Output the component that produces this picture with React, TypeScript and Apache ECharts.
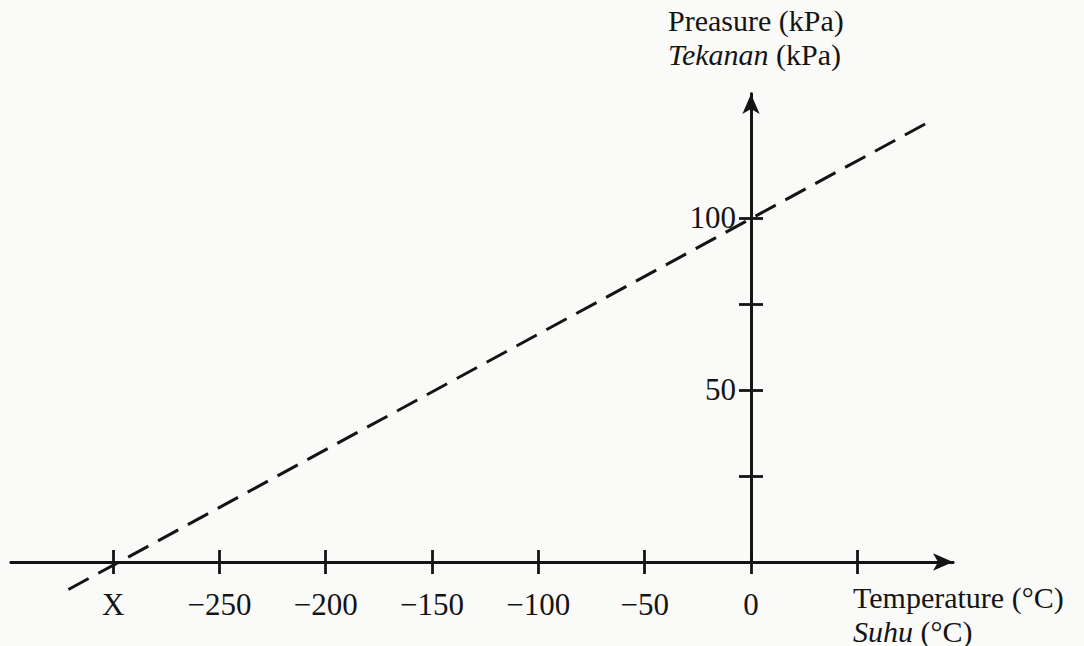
import React, { useEffect, useRef } from "react";
import * as echarts from "echarts";

// Axis tick values
const tempTicks: number[] = [-300, -250, -200, -150, -100, -50, 0, 50];
const tempLabels: number[] = [-300, -250, -200, -150, -100, -50, 0];
const pressureTicks: number[] = [25, 50, 75, 100];
const pressureLabels: number[] = [50, 100];
// Dashed extrapolated line
const lineTemps: number[] = [-321, 84];
const linePressures: number[] = [-8, 128];

const INK = "#141414";
const FONT = "Liberation Serif";
const FS = 31;
const NFS = 30;
const LH = 34;

export default function App() {
  const ref = useRef<HTMLDivElement>(null);
  useEffect(() => {
    if (!ref.current) return;
    const chart = echarts.init(ref.current, null, { renderer: "svg" });
    const axisLine = {
      show: true,
      onZero: false,
      lineStyle: { color: INK, width: 2.8 },
    };
    const tickStyle = { color: INK, width: 2.8 };
    const xBase = {
      type: "value" as const,
      min: -348,
      max: 95,
      position: "bottom" as const,
      splitLine: { show: false },
    };
    // y axis sits at temperature 0: px 751, grid left 11
    const yBase = {
      type: "value" as const,
      min: 0,
      max: 136,
      position: "left" as const,
      offset: -740,
      splitLine: { show: false },
    };
    const rich = {
      n: { fontFamily: FONT, fontSize: NFS, lineHeight: LH, fill: INK, color: INK },
      i: { fontFamily: FONT, fontSize: NFS, lineHeight: LH, fontStyle: "italic", fill: INK, color: INK },
    };
    chart.setOption({
      animation: false,
      backgroundColor: "#fafaf8",
      grid: { left: 11, right: 131, top: 94, bottom: 84, containLabel: false, outerBoundsMode: "none" },
      xAxis: [
        {
          ...xBase,
          axisLine: { ...axisLine, symbol: ["none", "arrow"], symbolSize: [13, 20] },
          axisTick: { show: true, inside: false, length: 12, customValues: tempTicks, lineStyle: tickStyle },
          axisLabel: {
            show: true,
            customValues: tempLabels,
            margin: 27,
            fontFamily: FONT,
            fontSize: FS,
            color: INK,
            formatter: (v: number) => (v === -300 ? "X" : v < 0 ? "\u2212" + Math.abs(v) : String(v)),
          },
        },
        {
          ...xBase,
          axisLine: { ...axisLine },
          axisTick: { show: true, inside: true, length: 12, customValues: tempTicks, lineStyle: tickStyle },
          axisLabel: { show: false },
        },
      ],
      yAxis: [
        {
          ...yBase,
          axisLine: { ...axisLine, symbol: ["none", "arrow"], symbolSize: [13, 20] },
          axisTick: { show: true, inside: false, length: 12, customValues: pressureTicks, lineStyle: tickStyle },
          axisLabel: {
            show: true,
            customValues: pressureLabels,
            margin: 15,
            fontFamily: FONT,
            fontSize: FS,
            color: INK,
          },
        },
        {
          ...yBase,
          axisLine: { ...axisLine },
          axisTick: { show: true, inside: true, length: 12, customValues: pressureTicks, lineStyle: tickStyle },
          axisLabel: { show: false },
        },
      ],
      series: [
        {
          type: "line",
          xAxisIndex: 0,
          yAxisIndex: 0,
          data: lineTemps.map((t, i) => [t, linePressures[i]]),
          showSymbol: false,
          symbol: "none",
          clip: false,
          lineStyle: { color: INK, width: 3, type: [23, 11] },
          silent: true,
        },
      ],
      graphic: [
        {
          type: "text",
          left: 668,
          top: 3,
          style: {
            text: "{n|Preasure (kPa)}\n{i|Tekanan}{n| (kPa)}",
            fontFamily: FONT,
            fontSize: NFS,
            lineHeight: LH,
            fill: INK,
            rich,
          },
        },
        {
          type: "text",
          left: 853,
          top: 580,
          style: {
            text: "{n|Temperature (°C)}\n{i|Suhu}{n| (°C)}",
            fontFamily: FONT,
            fontSize: NFS,
            lineHeight: LH,
            fill: INK,
            rich,
          },
        },
      ],
    });
    return () => chart.dispose();
  }, []);
  return (
    <div
      ref={ref}
      style={{ position: "fixed", left: 0, top: 0, width: 1084, height: 646 }}
    />
  );
}
